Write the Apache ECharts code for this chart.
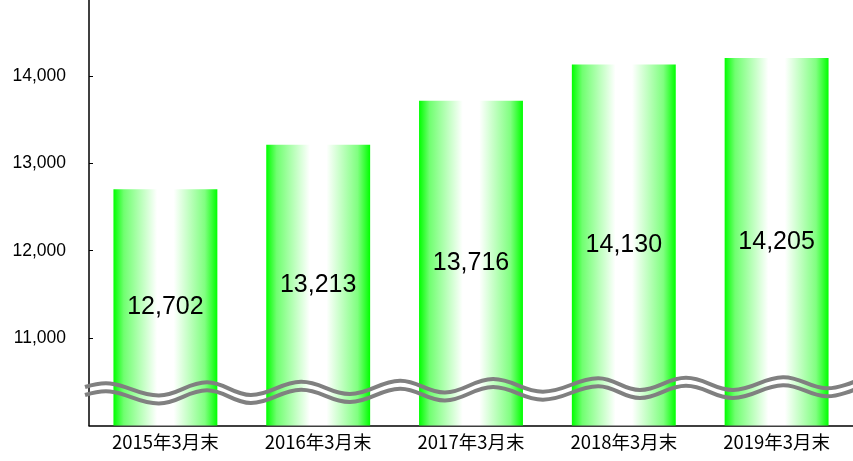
<!DOCTYPE html>
<html>
<head>
<meta charset="utf-8">
<script src="https://cdn.jsdelivr.net/npm/echarts@6/dist/echarts.min.js"></script>
<style>
  html, body { margin: 0; padding: 0; background: #fff; }
  #chart { width: 853px; height: 461px; }
</style>
</head>
<body>
<div id="chart"></div>
<script>
// data
var categories = ['2015年3月末', '2016年3月末', '2017年3月末', '2018年3月末', '2019年3月末']
var values = [12702, 13213, 13716, 14130, 14205]
var yMin = 10000
var yMax = 14868 // top of the axis sits at the top edge of the picture
var yStep = 1000

// wavy "axis break" decoration (pixel points of the upper line)
var wave = [
  [85, 387], [110, 383.5], [159, 395.5], [207, 382.3], [251, 395], [301, 381.7],
  [350, 394], [400, 380.7], [445, 392.5], [493, 379], [543, 391.7], [598, 378.3],
  [640, 390], [686, 377.7], [733, 390], [783, 377.3], [826, 388.3], [856, 381]
]

var chart = echarts.init(document.getElementById('chart'))

var barColor = new echarts.graphic.LinearGradient(0, 0, 1, 0, [
  { offset: 0, color: '#00ff00' },
  { offset: 0.1, color: '#70ff70' },
  { offset: 0.42, color: '#ffffff' },
  { offset: 0.58, color: '#ffffff' },
  { offset: 0.88, color: '#80ff80' },
  { offset: 1, color: '#00ff00' }
])

function fmt (v) {
  return Number(v).toLocaleString('en-US')
}

var option = {
  animation: false,
  grid: {
    left: 89,
    right: -11,
    top: 0,
    bottom: 35.5,
    containLabel: false
  },
  xAxis: {
    type: 'category',
    data: categories,
    axisLine: { lineStyle: { color: '#000', width: 1.5 } },
    axisTick: { inside: true, length: 5, lineStyle: { color: '#000' } },
    axisLabel: {
      interval: 0,
      margin: 7,
      color: '#000',
      fontSize: 18.5,
      fontFamily: 'Noto Sans CJK JP'
    }
  },
  yAxis: {
    type: 'value',
    min: yMin,
    max: yMax,
    interval: yStep,
    splitLine: { show: false },
    axisLine: { show: true, lineStyle: { color: '#000', width: 1.5 } },
    axisTick: { show: true, inside: true, length: 4, lineStyle: { color: '#000' } },
    axisLabel: {
      showMinLabel: false,
      showMaxLabel: false,
      margin: 23,
      color: '#000',
      fontSize: 17.5,
      fontFamily: 'Liberation Sans',
      formatter: fmt
    }
  },
  series: [
    {
      type: 'bar',
      data: values,
      barWidth: '68%',
      itemStyle: { color: barColor },
      label: {
        show: true,
        position: 'inside',
        color: '#000',
        fontSize: 25,
        fontFamily: 'Liberation Sans',
        formatter: function (p) { return fmt(p.value) }
      }
    }
  ],
  graphic: [
    {
      type: 'polyline',
      z: 100,
      shape: { points: wave, smooth: 0.4 },
      style: { stroke: '#808080', lineWidth: 4, fill: null }
    },
    {
      type: 'polyline',
      z: 100,
      shape: { points: wave.map(function (p) { return [p[0], p[1] + 8] }), smooth: 0.4 },
      style: { stroke: '#808080', lineWidth: 4, fill: null }
    }
  ]
}

chart.setOption(option)
</script>
</body>
</html>
